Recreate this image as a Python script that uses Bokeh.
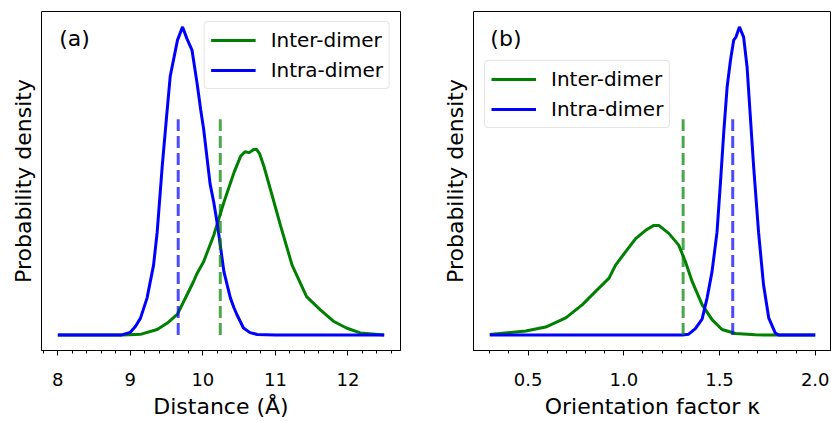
from bokeh.plotting import figure
from bokeh.layouts import row
from bokeh.models import FixedTicker, Range1d, Label, Legend, LegendItem
from bokeh.embed import file_html
from bokeh.resources import INLINE

# ---------------- data: panel (a) distance ----------------
dist_intra_x = [8.0, 8.5, 8.87, 9.0, 9.07, 9.14, 9.23, 9.32, 9.37, 9.44, 9.50, 9.55, 9.65, 9.72,
                9.78, 9.85, 9.92, 9.97, 10.01, 10.10, 10.15, 10.20, 10.29, 10.38, 10.43, 10.47,
                10.56, 10.65, 10.75, 11.0, 12.5]
dist_intra_y = [0.0, 0.0, 0.0, 0.009, 0.028, 0.055, 0.12, 0.227, 0.334, 0.549, 0.71, 0.84, 0.957, 1.0,
                0.962, 0.925, 0.817, 0.731, 0.67, 0.49, 0.431, 0.36, 0.206, 0.12, 0.088, 0.066,
                0.023, 0.008, 0.002, 0.0, 0.0]
dist_inter_x = [8.0, 8.9, 9.15, 9.37, 9.51, 9.65, 9.78, 9.87, 9.92, 10.01, 10.15, 10.29, 10.43, 10.52,
                10.58, 10.64, 10.70, 10.74, 10.78, 10.84, 10.93, 11.07, 11.23, 11.43, 11.62,
                11.80, 11.98, 12.17, 12.5]
dist_inter_y = [0.0, 0.0, 0.003, 0.018, 0.039, 0.068, 0.13, 0.173, 0.2, 0.238, 0.324, 0.431, 0.528, 0.58,
                0.595, 0.592, 0.602, 0.603, 0.59, 0.549, 0.474, 0.356, 0.227, 0.125, 0.082,
                0.045, 0.023, 0.007, 0.0]
dist_means = {"Inter-dimer": 10.24, "Intra-dimer": 9.66}

# ---------------- data: panel (b) orientation factor ----------------
kappa_intra_x = [0.3, 1.0, 1.305, 1.339, 1.374, 1.409, 1.435, 1.461, 1.487, 1.505, 1.522, 1.540,
                 1.557, 1.574, 1.586, 1.604, 1.626, 1.644, 1.661, 1.678, 1.704, 1.730, 1.757,
                 1.791, 1.81, 2.0]
kappa_intra_y = [0.0, 0.0, 0.0, 0.003, 0.021, 0.052, 0.12, 0.206, 0.334, 0.495, 0.656, 0.806,
                 0.89, 0.957, 0.967, 1.0, 0.967, 0.87, 0.71, 0.549, 0.334, 0.163, 0.056,
                 0.007, 0.0, 0.0]
kappa_inter_x = [0.3, 0.488, 0.592, 0.697, 0.784, 0.853, 0.923, 0.957, 1.009, 1.062, 1.114, 1.157,
                 1.183, 1.235, 1.287, 1.322, 1.357, 1.409, 1.461, 1.513, 1.583, 1.687, 1.79, 2.0]
kappa_inter_y = [0.002, 0.013, 0.026, 0.056, 0.099, 0.142, 0.185, 0.227, 0.27, 0.313, 0.34, 0.356,
                 0.356, 0.33, 0.292, 0.238, 0.174, 0.099, 0.05, 0.018, 0.005, 0.001, 0.0, 0.0]
kappa_means = {"Inter-dimer": 1.310, "Intra-dimer": 1.569}

mean_line_height = 0.70

dist_ticks = [8, 9, 10, 11, 12]
dist_tick_labels = ["8", "9", "10", "11", "12"]
dist_minor = [7.8 + 0.2 * i for i in range(25)]
kappa_ticks = [0.5, 1.0, 1.5, 2.0]
kappa_tick_labels = ["0.5", "1.0", "1.5", "2.0"]
kappa_minor = [0.3 + 0.1 * i for i in range(18)]

GREEN = "#008000"
BLUE = "#0000ff"
FONT = "DejaVu Sans"


def panel(width, min_left, min_right, inter_x, inter_y, intra_x, intra_y, means,
          ticks, tick_labels, minor, xlabel, tag, tag_x, legend_loc):
    xmin = min(inter_x + intra_x)
    xmax = max(inter_x + intra_x)
    pad = 0.05 * (xmax - xmin)
    ymax = max(inter_y + intra_y)
    p = figure(width=width, height=421, output_backend="svg", toolbar_location=None,
               x_range=Range1d(xmin - pad, xmax + pad),
               y_range=Range1d(-0.05 * ymax, 1.05 * ymax),
               min_border_left=min_left, min_border_right=min_right,
               min_border_top=11, min_border_bottom=68)
    p.grid.visible = False
    p.outline_line_color = "black"
    p.outline_line_width = 1
    p.background_fill_color = "white"
    p.border_fill_color = "white"

    g = p.line(inter_x, inter_y, line_color=GREEN, line_width=3)
    b = p.line(intra_x, intra_y, line_color=BLUE, line_width=3)
    p.segment(x0=[means["Inter-dimer"]], y0=[0], x1=[means["Inter-dimer"]],
              y1=[mean_line_height * ymax],
              line_color=GREEN, line_alpha=0.7, line_width=3, line_dash="12 5")
    p.segment(x0=[means["Intra-dimer"]], y0=[0], x1=[means["Intra-dimer"]],
              y1=[mean_line_height * ymax],
              line_color=BLUE, line_alpha=0.7, line_width=3, line_dash="12 5")

    # x axis
    p.xaxis.ticker = FixedTicker(ticks=ticks, minor_ticks=minor)
    p.xaxis.major_label_overrides = {t: l for t, l in zip(ticks, tick_labels)}
    p.xaxis.major_tick_out = 5
    p.xaxis.major_tick_in = 0
    p.xaxis.minor_tick_out = 3
    p.xaxis.minor_tick_in = 0
    p.xaxis.major_label_standoff = 17
    p.xaxis.major_label_text_font = FONT
    p.xaxis.major_label_text_font_size = "18px"
    p.xaxis.major_label_text_color = "black"
    p.xaxis.axis_label = xlabel
    p.xaxis.axis_label_text_font = FONT
    p.xaxis.axis_label_text_font_size = "22px"
    p.xaxis.axis_label_text_font_style = "normal"
    p.xaxis.axis_label_text_color = "black"
    p.xaxis.axis_label_standoff = 5
    p.xaxis.axis_line_color = "black"
    p.xaxis.major_tick_line_color = "black"
    p.xaxis.minor_tick_line_color = "black"

    # y axis: label only
    p.yaxis.ticker = FixedTicker(ticks=[])
    p.yaxis.major_tick_out = 0
    p.yaxis.major_tick_in = 0
    p.yaxis.minor_tick_out = 0
    p.yaxis.minor_tick_in = 0
    p.yaxis.major_label_standoff = 0
    p.yaxis.axis_line_color = None
    p.yaxis.axis_label = "Probability density"
    p.yaxis.axis_label_text_font = FONT
    p.yaxis.axis_label_text_font_size = "22px"
    p.yaxis.axis_label_text_font_style = "normal"
    p.yaxis.axis_label_text_color = "black"
    p.yaxis.axis_label_standoff = 6

    lab = Label(x=tag_x, y=0.963 * ymax, text=tag, text_font=FONT, text_font_size="22px",
                text_baseline="middle", text_color="black")
    p.add_layout(lab)

    legend = Legend(items=[LegendItem(label="Inter-dimer", renderers=[g]),
                           LegendItem(label="Intra-dimer", renderers=[b])],
                    location=legend_loc, margin=10, padding=6, spacing=6,
                    glyph_width=45, glyph_height=24, label_height=24,
                    label_standoff=15,
                    label_text_font=FONT, label_text_font_size="20px",
                    label_text_color="black",
                    border_line_color="#cccccc", border_line_width=1,
                    background_fill_alpha=0.8)
    if "border_radius" in Legend.properties():
        legend.border_radius = 4
    p.add_layout(legend)
    return p


p1 = panel(439, 41, 39, dist_inter_x, dist_inter_y, dist_intra_x, dist_intra_y, dist_means,
           dist_ticks, dist_tick_labels, dist_minor, "Distance (Å)", "(a)", 8.02, "top_right")
p2 = panel(392, 33, 0, kappa_inter_x, kappa_inter_y, kappa_intra_x, kappa_intra_y, kappa_means,
           kappa_ticks, kappa_tick_labels, kappa_minor, "Orientation factor κ", "(b)", 0.303, (11, 222))

layout = row(p1, p2)
open("out.html", "w").write(file_html(layout, INLINE))
